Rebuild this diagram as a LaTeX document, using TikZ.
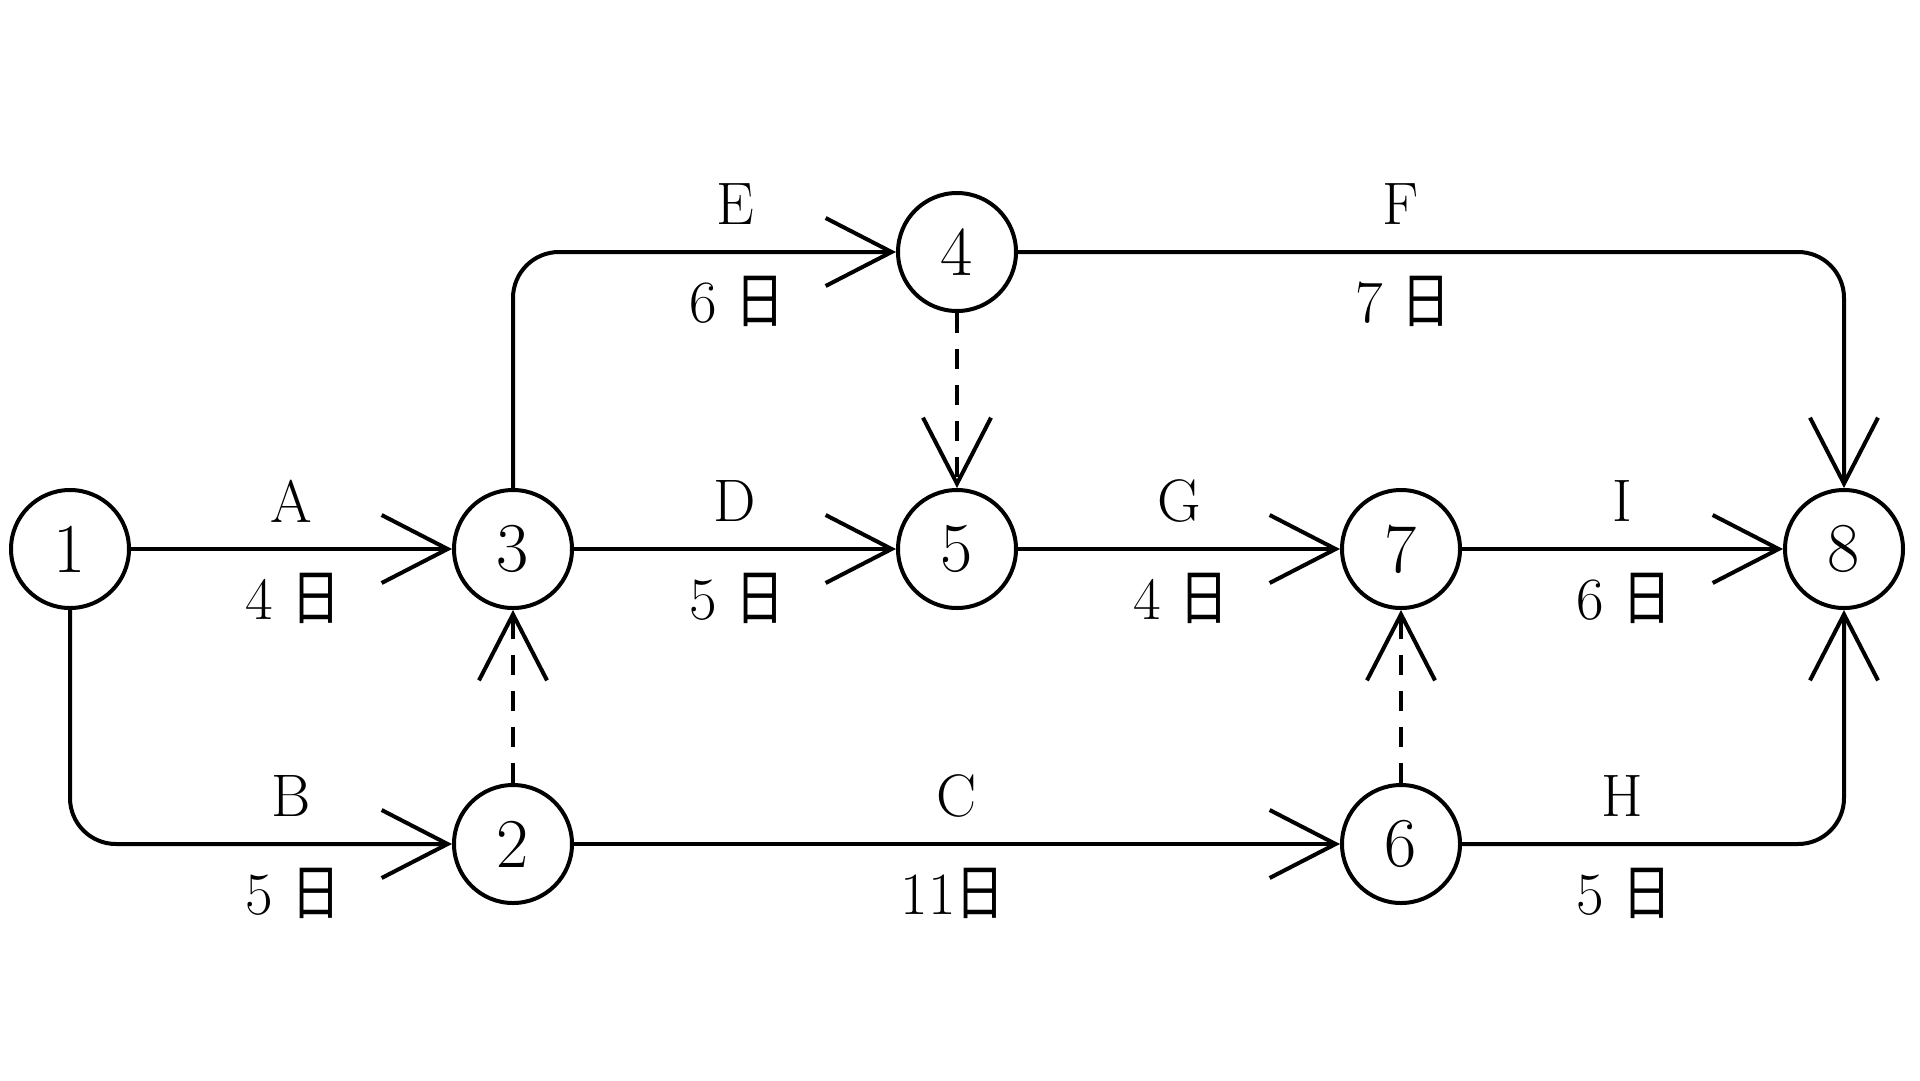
\documentclass[tikz,border=0pt]{standalone}
\usepackage{fontspec}
\newfontfamily\cjk{Noto Sans CJK SC}
\usetikzlibrary{arrows.meta}
\newcommand{\ri}{\scalebox{0.82}[1]{\cjk 日}}
\begin{document}
\begin{tikzpicture}[x=1pt,y=-1pt,
  evt/.style={circle,draw,line width=4pt,minimum size=118pt,inner sep=0pt,font=\fontsize{70}{80}\selectfont},
  lbl/.style={font=\fontsize{60}{70}\selectfont,inner sep=0pt},
  act/.style={line width=4pt,-{Straight Barb[length=66pt,width=68pt]}},
  dum/.style={act,dash pattern=on 20pt off 16pt}]
\useasboundingbox (0,0) rectangle (1920,1080);
% events
\node[evt] (n1) at (70,549) {1};
\node[evt] (n3) at (513,549) {3};
\node[evt] (n5) at (957,549) {5};
\node[evt] (n7) at (1401,549) {7};
\node[evt] (n8) at (1844,549) {8};
\node[evt] (n4) at (957,252) {4};
\node[evt] (n2) at (513,844) {2};
\node[evt] (n6) at (1401,844) {6};
% activities
\draw[act] (n1) -- (n3);
\draw[act,rounded corners=46pt] (n1.south) |- (n2.west);
\draw[act,rounded corners=46pt] (n3.north) |- (n4.west);
\draw[act] (n3) -- (n5);
\draw[dum] (n4) -- (n5);
\draw[dum] (n2) -- (n3);
\draw[act] (n2) -- (n6);
\draw[act,rounded corners=46pt] (n4.east) -| (n8.north);
\draw[act] (n5) -- (n7);
\draw[dum] (n6) -- (n7);
\draw[act] (n7) -- (n8);
\draw[act,rounded corners=46pt] (n6.east) -| (n8.south);
% labels
\node[lbl] (lA) at (291.5,501) {A};
\node[lbl] (dA) at (293,598) {4 \ri};
\node[lbl] (lB) at (291.5,796) {B};
\node[lbl] (dB) at (293,893) {5 \ri};
\node[lbl] (lE) at (735,204) {E};
\node[lbl] (dE) at (737,301) {6 \ri};
\node[lbl] (lD) at (735,501) {D};
\node[lbl] (dD) at (737,598) {5 \ri};
\node[lbl] (lC) at (957,796) {C};
\node[lbl] (dC) at (953,893) {11\ri};
\node[lbl] (lF) at (1401,204) {F};
\node[lbl] (dF) at (1403,301) {7 \ri};
\node[lbl] (lG) at (1179,501) {G};
\node[lbl] (dG) at (1181,598) {4 \ri};
\node[lbl] (lI) at (1622.5,501) {I};
\node[lbl] (dI) at (1624,598) {6 \ri};
\node[lbl] (lH) at (1622.5,796) {H};
\node[lbl] (dH) at (1624,893) {5 \ri};
\end{tikzpicture}
\end{document}
